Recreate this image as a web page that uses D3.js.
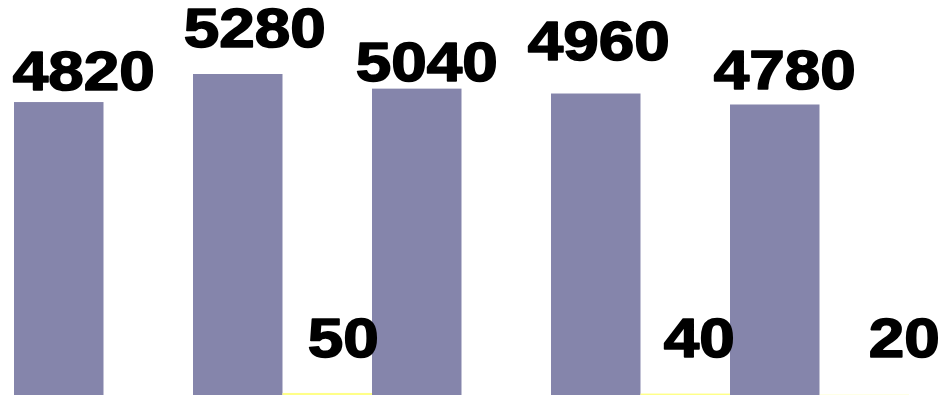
<!DOCTYPE html>
<html>
<head>
<meta charset="utf-8">
<script src="https://cdn.jsdelivr.net/npm/d3@7"></script>
<style>
  html, body { margin: 0; padding: 0; background: #ffffff; }
  svg { display: block; }
</style>
</head>
<body>
<script>
// Chart data
const categories = ["C1", "C2", "C3", "C4", "C5"];
const primaryValues = [4820, 5280, 5040, 4960, 4780];
const secondaryValues = [null, 50, null, 40, 20];
const seriesKeys = ["primary", "secondary"];

// Hand-tuned label offsets (dx, dy) relative to each bar's centre / top
const primaryLabelShift = [[25, -12], [17, -27], [10, -8], [3, -34], [10, -15]];
const secondaryLabelShift = [null, [16, -36], null, [14, -37], [40, -38]];

const width = 942, height = 395;
const colors = { primary: "#8585ab", secondary: "#ffff88" };

const svg = d3.select("body").append("svg")
  .attr("width", width)
  .attr("height", height);

svg.append("rect").attr("width", width).attr("height", height).attr("fill", "#ffffff");

const x0 = d3.scaleBand().domain(categories).range([14, 909]).padding(0);
const x1 = d3.scaleBand().domain(seriesKeys).range([0, x0.bandwidth()]).padding(0);
const y = d3.scaleLinear().domain([0, 5280]).range([396, 74]);

const rows = categories.map((c, i) => ({
  cat: c,
  primary: primaryValues[i],
  secondary: secondaryValues[i],
  pShift: primaryLabelShift[i],
  sShift: secondaryLabelShift[i]
}));

const barLayer = svg.append("g").attr("class", "bars");
const labelLayer = svg.append("g").attr("class", "labels");

const groups = barLayer.selectAll("g.group")
  .data(rows)
  .join("g")
  .attr("class", "group")
  .attr("transform", d => `translate(${x0(d.cat)},0)`);

// Primary bars
groups.append("rect")
  .attr("x", x1("primary"))
  .attr("width", x1.bandwidth())
  .attr("y", d => y(d.primary))
  .attr("height", d => y(0) - y(d.primary))
  .attr("fill", colors.primary);

// Secondary bars (only where a value exists)
groups.filter(d => d.secondary != null).append("rect")
  .attr("x", x1("secondary"))
  .attr("width", x1.bandwidth())
  .attr("y", d => y(d.secondary))
  .attr("height", d => y(0) - y(d.secondary))
  .attr("fill", colors.secondary);

const labelStyle = sel => sel
  .attr("text-anchor", "middle")
  .attr("font-family", "'Liberation Sans', Arial, sans-serif")
  .attr("font-weight", "bold")
  .attr("font-size", 56)
  .attr("fill", "#000000")
  .attr("stroke", "#000000")
  .attr("stroke-width", 1.6)
  .attr("stroke-linejoin", "round");

const labelGroups = labelLayer.selectAll("g.label-group")
  .data(rows)
  .join("g")
  .attr("class", "label-group")
  .attr("transform", d => `translate(${x0(d.cat)},0)`);

// Value labels for primary bars
labelGroups.append("text")
  .call(labelStyle)
  .attr("transform", d => {
    const cx = x1("primary") + x1.bandwidth() / 2 + d.pShift[0];
    const cy = y(d.primary) + d.pShift[1];
    return `translate(${cx},${cy}) scale(1.14,1)`;
  })
  .text(d => d.primary);

// Value labels for secondary bars
labelGroups.filter(d => d.secondary != null).append("text")
  .call(labelStyle)
  .attr("transform", d => {
    const cx = x1("secondary") + x1.bandwidth() / 2 + d.sShift[0];
    const cy = y(d.secondary) + d.sShift[1];
    return `translate(${cx},${cy}) scale(1.14,1)`;
  })
  .text(d => d.secondary);
</script>
</body>
</html>
